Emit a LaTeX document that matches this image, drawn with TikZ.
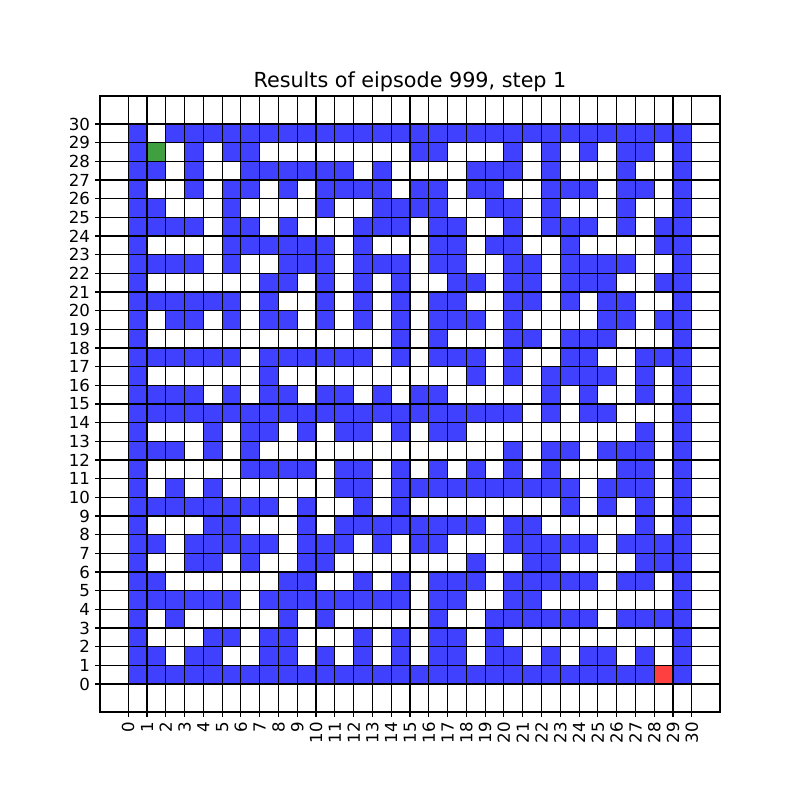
\documentclass[tikz,border=0pt]{standalone}
\usepackage{fontspec}
\setmainfont{DejaVu Sans}

\definecolor{mazeblue}{RGB}{64,64,255}
\definecolor{startgreen}{RGB}{64,160,64}
\definecolor{goalred}{RGB}{255,64,64}

\begin{document}
\begin{tikzpicture}[x=0.4697cm,y=0.46667cm,
  every node/.style={font=\fontsize{11.81}{13}\selectfont,inner sep=0pt},
  wallcell/.style={fill=mazeblue},
  startcell/.style={fill=startgreen},
  goalcell/.style={fill=goalred},
  gridline/.style={line width=.8pt}]
\useasboundingbox (-6.822,-6.214) rectangle (35.758,36.643);
\foreach \y/\runs in {
  29/{0/0,2/29},
  28/{0/0,3/3,5/6,15/16,20/20,22/22,24/24,26/27,29/29},
  27/{0/1,3/3,6/11,13/13,18/20,22/22,26/26,29/29},
  26/{0/0,3/3,5/6,8/8,10/13,15/16,18/19,22/24,26/27,29/29},
  25/{0/1,5/5,10/10,13/16,19/20,22/22,26/26,29/29},
  24/{0/3,5/6,8/8,12/14,16/17,20/20,22/24,26/26,28/29},
  23/{0/0,5/10,12/12,16/17,19/20,23/23,28/29},
  22/{0/3,5/5,8/10,12/14,16/17,20/21,23/26,29/29},
  21/{0/0,7/8,10/10,12/12,14/14,17/18,20/21,23/25,28/29},
  20/{0/5,7/7,10/10,12/12,14/14,16/17,20/21,23/23,25/26,29/29},
  19/{0/0,2/3,5/5,7/8,10/10,12/12,14/14,16/18,20/20,25/26,28/29},
  18/{0/0,14/14,16/16,20/21,23/25,29/29},
  17/{0/5,7/12,14/14,16/18,20/20,23/24,27/29},
  16/{0/0,7/7,18/18,20/20,22/25,27/27,29/29},
  15/{0/3,5/5,7/8,10/11,13/13,15/16,22/22,24/24,27/27,29/29},
  14/{0/20,22/22,24/25,29/29},
  13/{0/0,4/4,6/7,9/9,11/12,14/14,16/17,27/27,29/29},
  12/{0/2,4/4,6/6,20/20,22/23,25/27,29/29},
  11/{0/0,6/9,11/12,14/14,16/16,18/18,20/20,22/22,26/27,29/29},
  10/{0/0,2/2,4/4,11/12,14/23,25/27,29/29},
  9/{0/7,9/9,12/12,14/14,23/23,25/25,27/27,29/29},
  8/{0/0,4/5,9/9,11/18,20/21,27/27,29/29},
  7/{0/1,3/7,9/11,13/13,15/16,20/24,26/29},
  6/{0/0,3/4,6/6,9/10,18/18,21/22,27/29},
  5/{0/1,8/9,12/12,14/14,16/18,20/24,26/27,29/29},
  4/{0/5,7/14,16/17,20/21,29/29},
  3/{0/0,2/2,8/8,10/10,16/16,19/24,26/29},
  2/{0/0,4/5,7/8,12/12,14/14,16/17,19/19,29/29},
  1/{0/1,3/4,7/8,10/10,12/12,14/14,16/17,19/20,22/22,24/25,27/27,29/29},
  0/{0/27,29/29}}
  \foreach \a/\b in \runs
    \fill[wallcell] (\a,\y) rectangle (\b+1,\y+1);
\fill[startcell] (1,28) rectangle (2,29);
\fill[goalcell] (28,0) rectangle (29,1);
\foreach \i in {0,...,30} {
  \draw[gridline] (\i,-1.5) -- (\i,31.5);
  \draw[gridline] (-1.5,\i) -- (31.5,\i);
  \draw[gridline] (\i,-1.5) -- (\i,-1.76);
  \draw[gridline] (-1.5,\i) -- (-1.76,\i);
  \node[anchor=east] (yl\i) at (-2.016,\i) {\i};
  \node[rotate=90,anchor=east] (xl\i) at (\i,-2.02) {\i};
}
\draw[gridline] (-1.5,-1.5) rectangle (31.5,31.5);
\node[anchor=base,font=\fontsize{14.74}{17}\selectfont] (title) at (15,31.94) {Results of eipsode 999, step 1};
\end{tikzpicture}
\end{document}
